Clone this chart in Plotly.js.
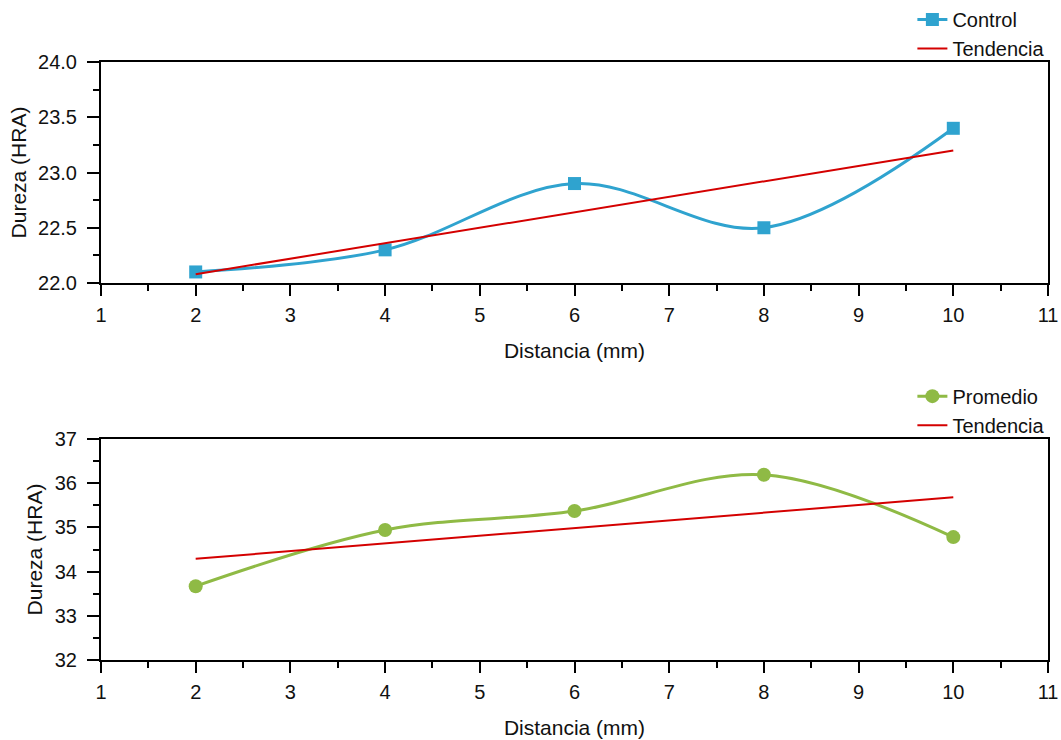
<!DOCTYPE html>
<html>
<head>
<meta charset="utf-8">
<script src="https://cdn.plot.ly/plotly-3.0.1.min.js"></script>
<style>html,body{margin:0;padding:0;background:#fff;}#chart{width:1061px;height:740px;}</style>
</head>
<body>
<div id="chart"></div>
<script>
// Data
const distancia = [2, 4, 6, 8, 10];
const control = [22.1, 22.3, 22.9, 22.5, 23.4];
const tendControlX = [2, 10];
const tendControlY = [22.08, 23.2];
const promedio = [33.67, 34.94, 35.37, 36.19, 34.78];
const tendPromX = [2, 10];
const tendPromY = [34.29, 35.68];

const blue = '#2fa3cf';
const green = '#8fba45';
const red = '#d40000';
const font = 'Liberation Sans, Arial, sans-serif';
const txt = '#111';

const traces = [
  {x: distancia, y: control, name: 'Control', mode: 'lines+markers', xaxis: 'x', yaxis: 'y',
   line: {color: blue, width: 3, shape: 'spline', smoothing: 1.0},
   marker: {symbol: 'square', size: 13, color: blue}, legend: 'legend', legendgroup: 'a'},
  {x: tendControlX, y: tendControlY, name: 'Tendencia', mode: 'lines', xaxis: 'x', yaxis: 'y',
   line: {color: red, width: 2}, legend: 'legend', legendgroup: 'b'},
  {x: distancia, y: promedio, name: 'Promedio', mode: 'lines+markers', xaxis: 'x2', yaxis: 'y2',
   line: {color: green, width: 3, shape: 'spline', smoothing: 1.0},
   marker: {symbol: 'circle', size: 14, color: green}, legend: 'legend2', legendgroup: 'c'},
  {x: tendPromX, y: tendPromY, name: 'Tendencia', mode: 'lines', xaxis: 'x2', yaxis: 'y2',
   line: {color: red, width: 2}, legend: 'legend2', legendgroup: 'd'}
];

const H = 740, T = 62, B = 80;
const ph = H - T - B;
const topLow = (660 - 283) / ph;
const botHigh = (660 - 439) / ph;

function xax(anchor) {
  return {
    anchor: anchor, domain: [0, 1], range: [1, 11], dtick: 1, tick0: 1,
    showline: true, linecolor: '#000', linewidth: 2, mirror: true,
    ticks: 'outside', ticklen: 11, tickwidth: 2, tickcolor: '#000',
    minor: {ticks: 'outside', ticklen: 6, tickwidth: 2, tickcolor: '#000', dtick: 0.5, showgrid: false},
    showgrid: false, zeroline: false,
    tickfont: {family: font, size: 20, color: txt}, ticklabelstandoff: 2,
    title: {text: 'Distancia (mm)', font: {family: font, size: 21, color: txt}, standoff: 18}
  };
}
function yax(anchor, range, dtick, minor, dom, fmt) {
  return {
    anchor: anchor, domain: dom, range: range, dtick: dtick, tick0: range[0], tickformat: fmt,
    showline: true, linecolor: '#000', linewidth: 2, mirror: true,
    ticks: 'outside', ticklen: 12, tickwidth: 2, tickcolor: '#000',
    minor: {ticks: 'outside', ticklen: 6, tickwidth: 2, tickcolor: '#000', dtick: minor, showgrid: false},
    showgrid: false, zeroline: false,
    tickfont: {family: font, size: 20, color: txt}, ticklabelstandoff: 6,
    title: {text: 'Dureza (HRA)', font: {family: font, size: 21, color: txt}, standoff: 6}
  };
}

const layout = {
  width: 1061, height: 740,
  margin: {l: 101, r: 13, t: T, b: B, pad: 0, autoexpand: false},
  paper_bgcolor: '#fff', plot_bgcolor: '#fff',
  font: {family: font, size: 20, color: txt},
  xaxis: xax('y'),
  yaxis: yax('x', [22, 24], 0.5, 0.25, [topLow, 1], '.1f'),
  xaxis2: xax('y2'),
  yaxis2: yax('x2', [32, 37], 1, 0.5, [0, botHigh], 'd'),
  legend: {xref: 'container', yref: 'container', x: 0.99, xanchor: 'right', y: 1.0, yanchor: 'top',
           bgcolor: 'rgba(0,0,0,0)', font: {family: font, size: 20, color: txt},
           traceorder: 'grouped', tracegroupgap: 0},
  legend2: {xref: 'container', yref: 'container', x: 0.99, xanchor: 'right', y: 0.491, yanchor: 'top',
           bgcolor: 'rgba(0,0,0,0)', font: {family: font, size: 20, color: txt},
           traceorder: 'grouped', tracegroupgap: 0},
  showlegend: true
};

Plotly.newPlot('chart', traces, layout, {displayModeBar: false, staticPlot: true});
</script>
</body>
</html>
